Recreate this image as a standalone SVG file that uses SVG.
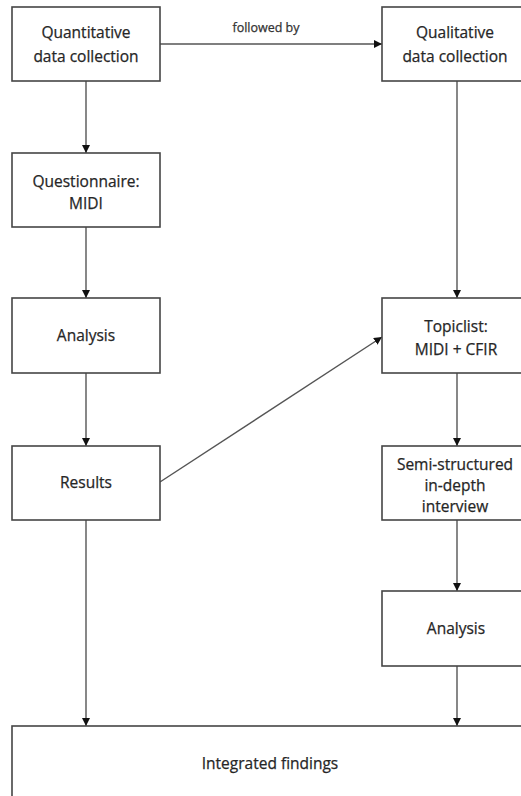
<svg xmlns="http://www.w3.org/2000/svg" width="521" height="796" viewBox="0 0 521 796">
  <style>
    .box { fill: #ffffff; stroke: #454545; stroke-width: 1.6; }
    .lbl { font-family: "Open Sans", "Liberation Sans", sans-serif; font-size: 15.5px; fill: #262626; stroke: #262626; stroke-width: 0.25; text-anchor: middle; }
    .edge { fill: none; stroke: #555555; stroke-width: 1.4; marker-end: url(#arrow); }
    .note { font-family: "Open Sans", "Liberation Sans", sans-serif; font-size: 12.5px; fill: #333333; stroke: #333333; stroke-width: 0.25; text-anchor: middle; }
  </style>
  <defs>
    <marker id="arrow" markerUnits="userSpaceOnUse" markerWidth="9" markerHeight="9" refX="8" refY="4" orient="auto">
      <path d="M0,0 L8,4 L0,8 z" fill="#111111"/>
    </marker>
  </defs>
  <rect width="521" height="796" fill="#ffffff"/>

  <!-- connectors -->
  <g id="connectors">
    <line class="edge" x1="160" y1="44" x2="382" y2="44"/>
    <text class="note" x="266" y="32">followed by</text>
    <line class="edge" x1="86" y1="81" x2="86" y2="153"/>
    <line class="edge" x1="86" y1="227" x2="86" y2="298"/>
    <line class="edge" x1="86" y1="373" x2="86" y2="446"/>
    <line class="edge" x1="86" y1="520" x2="86" y2="726"/>
    <line class="edge" x1="160" y1="482" x2="382" y2="337"/>
    <line class="edge" x1="457" y1="81" x2="457" y2="298"/>
    <line class="edge" x1="457" y1="373" x2="457" y2="446"/>
    <line class="edge" x1="457" y1="520" x2="457" y2="591"/>
    <line class="edge" x1="457" y1="666" x2="457" y2="726"/>
  </g>

  <!-- quantitative strand -->
  <g id="quant-collection">
    <rect class="box" x="12" y="7" width="148" height="74"/>
    <text class="lbl" x="86" y="38">Quantitative</text>
    <text class="lbl" x="86" y="62">data collection</text>
  </g>
  <g id="questionnaire">
    <rect class="box" x="12" y="153" width="148" height="74"/>
    <text class="lbl" x="86" y="187">Questionnaire:</text>
    <text class="lbl" x="86" y="209">MIDI</text>
  </g>
  <g id="quant-analysis">
    <rect class="box" x="12" y="298" width="148" height="75"/>
    <text class="lbl" x="86" y="341">Analysis</text>
  </g>
  <g id="quant-results">
    <rect class="box" x="12" y="446" width="148" height="74"/>
    <text class="lbl" x="86" y="488">Results</text>
  </g>

  <!-- qualitative strand -->
  <g id="qual-collection">
    <rect class="box" x="382" y="7" width="150" height="74"/>
    <text class="lbl" x="455" y="38">Qualitative</text>
    <text class="lbl" x="455" y="62">data collection</text>
  </g>
  <g id="topiclist">
    <rect class="box" x="382" y="298" width="150" height="75"/>
    <text class="lbl" x="456" y="332">Topiclist:</text>
    <text class="lbl" x="456" y="355">MIDI + CFIR</text>
  </g>
  <g id="interview">
    <rect class="box" x="382" y="446" width="150" height="74"/>
    <text class="lbl" x="455" y="470">Semi-structured</text>
    <text class="lbl" x="455" y="491">in-depth</text>
    <text class="lbl" x="455" y="512">interview</text>
  </g>
  <g id="qual-analysis">
    <rect class="box" x="382" y="591" width="150" height="75"/>
    <text class="lbl" x="456" y="634">Analysis</text>
  </g>

  <!-- merge -->
  <g id="integrated">
    <rect class="box" x="12" y="726" width="516" height="100"/>
    <text class="lbl" x="270" y="769">Integrated findings</text>
  </g>
</svg>
